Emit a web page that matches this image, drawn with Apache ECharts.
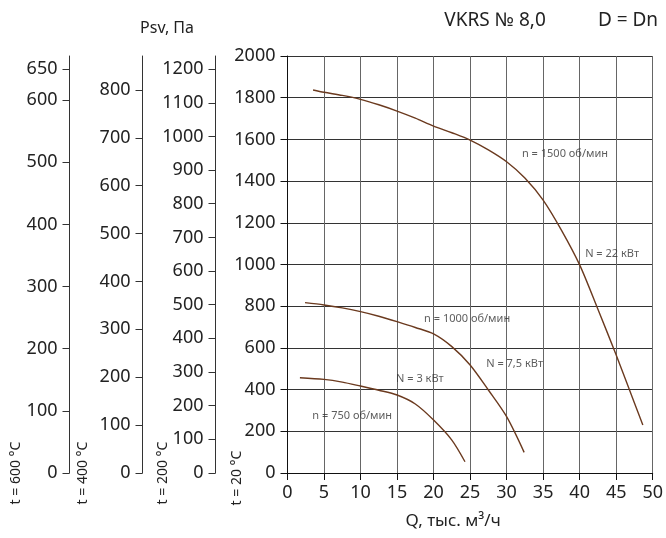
<!DOCTYPE html>
<html>
<head>
<meta charset="utf-8">
<script src="https://cdn.jsdelivr.net/npm/echarts@6/dist/echarts.min.js"></script>
<style>html,body{margin:0;padding:0;background:#fff;}#c{width:666px;height:538px;}</style>
</head>
<body>
<div id="c"></div>
<script>
// Q, thousand m3/h and Psv, Pa at 20 °C
const q1500 = [3.5, 5, 7.5, 10, 12.5, 15, 17.5, 20, 22.5, 25, 27.5, 30, 32.5, 35, 37.5, 40, 42.5, 45, 47.5, 48.65];
const p1500 = [1837, 1826, 1811, 1792, 1766, 1736, 1702, 1664, 1632, 1597, 1550, 1493, 1415, 1309, 1165, 998, 785, 566, 336, 230];
const q1000 = [2.4, 5, 7.5, 10, 12.5, 15, 17.5, 20, 22.5, 25, 27.5, 30, 32.4];
const p1000 = [817, 806, 792, 774, 752, 726, 698, 667, 606, 518, 398, 270, 99];
const q750 = [1.7, 5, 7.5, 10, 12.5, 15, 17.5, 20, 22.5, 24.3];
const p750 = [457, 449, 436, 417, 397, 374, 331, 254, 158, 54];

// auxiliary pressure scales (same physical pressure, other temperatures)
const ticks600 = [0, 100, 200, 300, 400, 500, 600, 650];
const ticks400 = [0, 100, 200, 300, 400, 500, 600, 700, 800];
const ticks200 = [0, 100, 200, 300, 400, 500, 600, 700, 800, 900, 1000, 1100, 1200];
const max600 = 671.2, max400 = 870.7, max200 = 1238.9;

// curve annotations: text, Q, Psv
const noteText = ['n = 1500 об/мин', 'N = 22 кВт', 'n = 1000 об/мин', 'N = 7,5 кВт', 'N = 3 кВт', 'n = 750 об/мин'];
const noteQ = [32.1, 40.75, 18.7, 27.2, 14.86, 3.4];
const noteP = [1533, 1050, 737, 523, 451, 273];

const FONT = '"Noto Sans", sans-serif';
const zip = (a, b) => a.map((v, i) => [v, b[i]]);
const curveColor = '#6b3a1f';
const plain = v => String(v);

function auxAxis(offset, max, vals) {
  return {
    type: 'value', position: 'left', offset: offset, min: 0, max: max,
    axisLine: { show: true, lineStyle: { color: '#333', width: 1 } },
    axisTick: { show: true, length: 7, customValues: vals, lineStyle: { color: '#333' } },
    axisLabel: { customValues: vals, formatter: plain, margin: 12, fontSize: 18, color: '#222', fontFamily: FONT },
    splitLine: { show: false }
  };
}

function curve(q, p) {
  return { type: 'line', data: zip(q, p), smooth: 0.3, showSymbol: false,
           lineStyle: { color: curveColor, width: 1.4 } };
}

const chart = echarts.init(document.getElementById('c'));
chart.setOption({
  animation: false,
  backgroundColor: '#fff',
  grid: { left: 287.5, right: 13.3, top: 56, bottom: 65, containLabel: false },
  xAxis: {
    type: 'value', min: 0, max: 50, interval: 5,
    name: 'Q, тыс. м³/ч', nameLocation: 'middle', nameGap: 40,
    nameTextStyle: { fontSize: 17, color: '#222', fontFamily: FONT, padding: [0, 34, 0, 0] },
    axisLine: { show: true, onZero: false, lineStyle: { color: '#111', width: 1 } },
    axisTick: { show: true, length: 7, lineStyle: { color: '#111' } },
    axisLabel: { formatter: plain, margin: 11, fontSize: 18, color: '#222', fontFamily: FONT },
    splitLine: { show: true, lineStyle: { color: '#666', width: 1 } }
  },
  yAxis: [
    {
      type: 'value', min: 0, max: 2000, interval: 200, position: 'left',
      axisLine: { show: true, lineStyle: { color: '#111', width: 1 } },
      axisTick: { show: true, length: 7, lineStyle: { color: '#111' } },
      axisLabel: { formatter: plain, margin: 12, fontSize: 18, color: '#222', fontFamily: FONT },
      splitLine: { show: true, lineStyle: { color: '#333', width: 1 } }
    },
    auxAxis(72, max200, ticks200),
    auxAxis(145, max400, ticks400),
    auxAxis(218, max600, ticks600)
  ],
  series: [
    curve(q1500, p1500),
    curve(q1000, p1000),
    curve(q750, p750),
    {
      type: 'scatter', symbolSize: 0, silent: true,
      data: noteText.map((t, i) => ({ name: t, value: [noteQ[i], noteP[i]] })),
      label: { show: true, position: 'right', distance: 0, formatter: p => p.name, fontSize: 11, color: '#333', fontFamily: FONT }
    }
  ],
  graphic: [
    { type: 'text', x: 167, y: 28, style: { text: 'Psv, Па', fill: '#222', font: '16px ' + FONT, align: 'center', verticalAlign: 'middle' } },
    { type: 'text', x: 495, y: 21, style: { text: 'VKRS № 8,0', fill: '#222', font: '19px ' + FONT, align: 'center', verticalAlign: 'middle' } },
    { type: 'text', x: 628, y: 21, style: { text: 'D = Dn', fill: '#222', font: '19px ' + FONT, align: 'center', verticalAlign: 'middle' } },
    { type: 'text', x: 16, y: 473, rotation: Math.PI / 2, style: { text: 't = 600 °C', fill: '#222', font: '14px ' + FONT, align: 'center', verticalAlign: 'middle' } },
    { type: 'text', x: 83, y: 473, rotation: Math.PI / 2, style: { text: 't = 400 °C', fill: '#222', font: '14px ' + FONT, align: 'center', verticalAlign: 'middle' } },
    { type: 'text', x: 163, y: 473, rotation: Math.PI / 2, style: { text: 't = 200 °C', fill: '#222', font: '14px ' + FONT, align: 'center', verticalAlign: 'middle' } },
    { type: 'text', x: 237, y: 478, rotation: Math.PI / 2, style: { text: 't = 20 °C', fill: '#222', font: '14px ' + FONT, align: 'center', verticalAlign: 'middle' } }
  ]
});
</script>
</body>
</html>
